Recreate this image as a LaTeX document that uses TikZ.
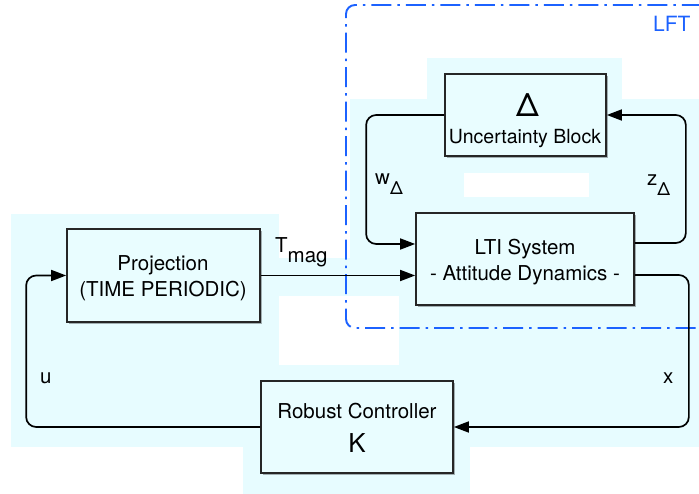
\documentclass[tikz,border=0pt]{standalone}
\usepackage{fontspec}
\setmainfont{TeX Gyre Heros}
\usetikzlibrary{arrows.meta,shadows}
\definecolor{patch}{RGB}{231,252,255}
\definecolor{boxfill}{RGB}{233,253,255}
\definecolor{lftblue}{RGB}{28,98,255}
\begin{document}
\begin{tikzpicture}[x=1pt,y=-1pt,
  block/.style={draw=black!85, line width=1.7pt, fill=boxfill, inner sep=0pt,
    drop shadow={shadow xshift=1.6pt, shadow yshift=-1.6pt, fill=black, opacity=0.3}},
  txt/.style={anchor=base, inner sep=0pt, font=\fontsize{20.5}{24}\selectfont},
  sig/.style={anchor=base west, inner sep=0pt, font=\fontsize{20.5}{24}\selectfont},
  flow/.style={line width=1.7pt, rounded corners=10pt, -{Triangle[length=15pt,width=11pt]}},
  lftframe/.style={draw=lftblue, line width=1.9pt, rounded corners=9pt,
    dash pattern=on 20pt off 6pt on 2.5pt off 6pt},
]
\useasboundingbox (0,0) rectangle (699,494);

% light cyan backdrop patches
\fill[patch] (11,214) rectangle (279,447);
\fill[patch] (279,258) rectangle (699,447);
\fill[patch] (350,99) rectangle (699,258);
\fill[patch] (427,58) rectangle (622,99);
\fill[patch] (243,447) rectangle (470,494);
\fill[white] (279,296) rectangle (399,365);
\fill[white] (464,173) rectangle (589,197);

% LFT interconnection frame
\draw[lftframe] (730,328) -- (346,328) -- (346,5) -- (730,5);
\node[anchor=base west, inner sep=0pt, text=lftblue, font=\fontsize{21}{24}\selectfont] (lft) at (653,32) {LFT};

% blocks
\node[block, minimum width=161pt, minimum height=82pt] (unc) at (525.5,115) {};
\node[block, minimum width=218pt, minimum height=92pt] (lti) at (525,259) {};
\node[block, minimum width=193pt, minimum height=93pt] (proj) at (163.5,275.5) {};
\node[block, minimum width=192pt, minimum height=92pt] (ctrl) at (357,427) {};

% block texts
\node[txt, font=\fontsize{32}{32}\selectfont] (uncsym) at (527.5,117) {Δ};
\node[txt, font=\fontsize{19.5}{24}\selectfont] (unctxt) at (525,144) {Uncertainty Block};
\node[txt] (ltitxt) at (525,255) {LTI System};
\node[txt] (ltisub) at (525,281) {- Attitude Dynamics -};
\node[txt] (projtxt) at (163,271) {Projection};
\node[txt] (projsub) at (163,297) {(TIME PERIODIC)};
\node[txt] (ctrltxt) at (357,418) {Robust Controller};
\node[txt, font=\fontsize{26}{28}\selectfont] (ctrlsym) at (357,452) {K};

% connectors
\draw[flow] (unc.west) -- ++(-78,0) |- ([yshift=15pt]lti.west);
\draw[flow] ([yshift=16pt]lti.east) -- ++(51,0) |- (unc.east);
\draw[flow] (proj.east) -- (proj.east -| lti.west);
\draw[flow] ([yshift=-16pt]lti.east) -- ++(54,0) |- (ctrl.east);
\draw[flow] (ctrl.west) -- ++(-234,0) |- (proj.west);

% signal labels
\node[sig] (tmag) at (275,253) {T\raisebox{-10pt}{mag}};
\node[sig] (wdel) at (375,185) {w\raisebox{-10pt}{\fontsize{18}{20}\selectfont Δ}};
\node[sig] (zdel) at (647,186) {z\raisebox{-10pt}{\fontsize{18}{20}\selectfont Δ}};
\node[sig] (usig) at (40,384) {u};
\node[sig] (xsig) at (663,383) {x};
\end{tikzpicture}
\end{document}
